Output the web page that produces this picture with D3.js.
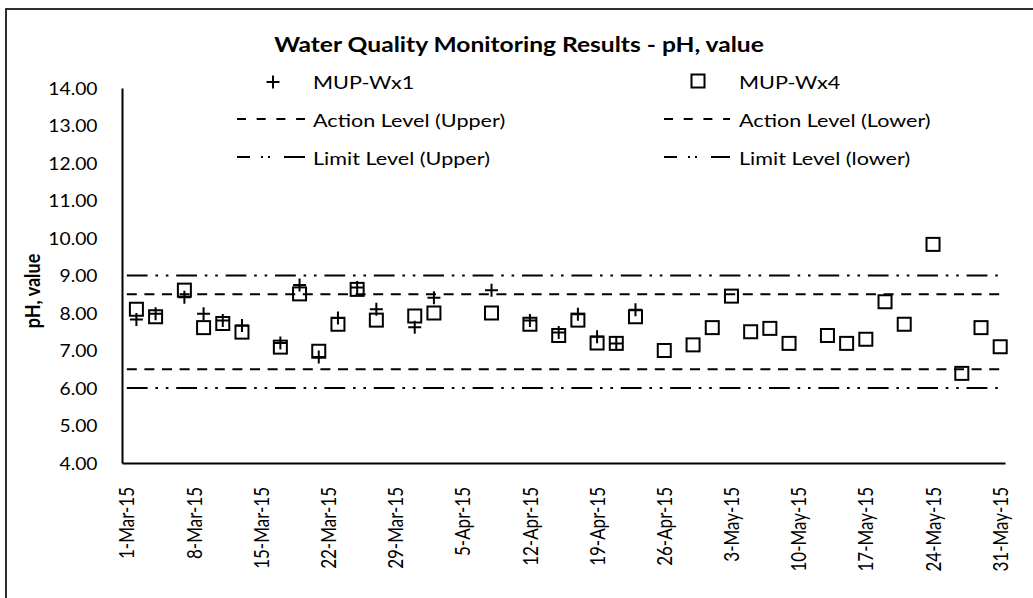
<!DOCTYPE html>
<html>
<head>
<meta charset="utf-8">
<script src="https://cdn.jsdelivr.net/npm/d3@7"></script>
<style>
body{margin:0;background:#fff;}
text{font-family:Lato,"Open Sans",sans-serif;fill:#000;}
</style>
</head>
<body>
<div id="chart-box"></div>
<script>
// sampling dates (MUP-Wx1 stops after 23-Apr)
const sampleDates=["2015-03-02","2015-03-04","2015-03-07","2015-03-09","2015-03-11","2015-03-13","2015-03-17","2015-03-19","2015-03-21","2015-03-23","2015-03-25","2015-03-27","2015-03-31","2015-04-02","2015-04-08","2015-04-12","2015-04-15","2015-04-17","2015-04-19","2015-04-21","2015-04-23","2015-04-26","2015-04-29","2015-05-01","2015-05-03","2015-05-05","2015-05-07","2015-05-09","2015-05-13","2015-05-15","2015-05-17","2015-05-19","2015-05-21","2015-05-24","2015-05-27","2015-05-29","2015-05-31"];
const wx1Values=[7.83,7.98,8.42,7.98,7.80,7.67,7.20,8.75,6.83,7.87,8.68,8.10,7.62,8.41,8.61,7.80,7.48,7.97,7.37,7.19,8.09];
const wx4Values=[8.10,7.90,8.61,7.61,7.72,7.49,7.09,8.51,6.98,7.70,8.63,7.81,7.92,8.00,8.00,7.70,7.40,7.81,7.20,7.19,7.90,7.00,7.15,7.61,8.45,7.50,7.59,7.19,7.40,7.19,7.30,8.30,7.70,9.83,6.39,7.61,7.10];
const seriesNames=["MUP-Wx1","MUP-Wx4"];
const levelNames=["Action Level (Upper)","Action Level (Lower)","Limit Level (Upper)","Limit Level (lower)"];
const levelValues=[8.5,6.5,9.0,6.0];
const levelSpan=["2015-03-01","2015-05-31"];
const tickDates=["2015-03-01","2015-03-08","2015-03-15","2015-03-22","2015-03-29","2015-04-05","2015-04-12","2015-04-19","2015-04-26","2015-05-03","2015-05-10","2015-05-17","2015-05-24","2015-05-31"];
const yTicks=[4,5,6,7,8,9,10,11,12,13,14];

const parse=d3.utcParse("%Y-%m-%d");
const W=1033, H=598;
const sx=1.2; // text in the picture is stretched sideways
const plot={left:122,right:1005,top:88,bottom:463};
const dashAction="10,7.6";
const dashLimit="20.8,7.8,2.6,7.8,2.6,7.8";

const svg=d3.select("#chart-box")
.append("svg")
.attr("width",W)
.attr("height",H);

//outer frame
svg.append("rect")
.attr("x",6).attr("y",9)
.attr("width",W+20).attr("height",H+20)
.attr("fill","none")
.attr("stroke","#1a1a1a")
.attr("stroke-width",1.8);

//scales
const x=d3.scaleUtc()
.domain([d3.utcHour.offset(parse("2015-02-28"),12),d3.utcHour.offset(parse("2015-05-31"),12)])
.range([plot.left,plot.right]);
const y=d3.scaleLinear()
.domain([4,14])
.range([plot.bottom,plot.top]);

//text stretched horizontally
function putText(parent,px,py,rot,k)
{
	return parent.append("g")
	.attr("transform",`translate(${px},${py}) scale(${k||sx},1)`+(rot?` rotate(${rot})`:""))
	.append("text");
}

//title
putText(svg,519,45,0)
.attr("text-anchor","middle")
.attr("dy","0.35em")
.style("font-size","20.5px")
.style("font-weight","bold")
.text("Water Quality Monitoring Results - pH, value");

//y axis title
putText(svg,32,291,-90)
.attr("text-anchor","middle")
.attr("dy","0.35em")
.style("font-size","18px")
.style("font-weight","bold")
.text("pH, value");

//limit / action lines
const lineGen=d3.line().x(d=>x(d.date)).y(d=>y(d.v));
levelValues.forEach(function(v,i){
	svg.append("path")
	.datum(levelSpan.map(s=>({date:parse(s),v:v})))
	.attr("d",lineGen)
	.attr("fill","none")
	.attr("stroke","#000")
	.attr("stroke-width",2.2)
	.attr("stroke-dasharray",i<2?dashAction:dashLimit);
});

//Y axis
const yAxis=d3.axisLeft(y)
.tickValues(yTicks)
.tickFormat(d3.format(".2f"))
.tickSize(0)
.tickSizeOuter(0);
const gy=svg.append("g")
.attr("transform",`translate(${plot.left},0)`)
.call(yAxis);
gy.select(".domain").attr("stroke","#000").attr("stroke-width",2);
gy.selectAll("text")
.attr("x",0).attr("dy","0.35em")
.attr("transform","translate(-24.5,0) scale(1.07,1)")
.style("font-size","18px")
.style("font-family","Lato, sans-serif");

//X axis
const xAxis=d3.axisBottom(x)
.tickValues(tickDates.map(parse))
.tickFormat(d3.utcFormat("%-d-%b-%y"))
.tickSize(0)
.tickSizeOuter(0);
const gx=svg.append("g")
.attr("transform",`translate(0,${plot.bottom})`)
.call(xAxis);
gx.select(".domain").attr("stroke","#000").attr("stroke-width",2);
gx.selectAll("text")
.attr("x",0).attr("y",0).attr("dy","0.35em")
.attr("text-anchor","end")
.attr("transform",`translate(0,24) scale(${sx},1) rotate(-90)`)
.style("font-size","17px")
.style("font-family","Lato, sans-serif");

//markers
const plusPath="M-6.5,0H6.5M0,-6.5V6.5";
svg.append("g").selectAll("path")
.data(wx1Values.map((v,i)=>({date:parse(sampleDates[i]),v:v})))
.enter()
.append("path")
.attr("d",plusPath)
.attr("transform",d=>`translate(${x(d.date)},${y(d.v)})`)
.attr("fill","none")
.attr("stroke","#000")
.attr("stroke-width",2);

svg.append("g").selectAll("rect")
.data(wx4Values.map((v,i)=>({date:parse(sampleDates[i]),v:v})))
.enter()
.append("rect")
.attr("x",d=>x(d.date)-6.5)
.attr("y",d=>y(d.v)-6.5)
.attr("width",13)
.attr("height",13)
.attr("fill","none")
.attr("stroke","#000")
.attr("stroke-width",2);

//legend
const legend=svg.append("g").attr("id","legend");
const rows=[83,121,159];
const cols=[{s:237,e:305,t:313},{s:664,e:730,t:739}];
//series markers
legend.append("path")
.attr("d",plusPath)
.attr("transform",`translate(273,${rows[0]-1})`)
.attr("stroke","#000").attr("stroke-width",2);
legend.append("rect")
.attr("x",698-6.5).attr("y",rows[0]-2-6.5)
.attr("width",13).attr("height",13)
.attr("fill","none").attr("stroke","#000").attr("stroke-width",2);
seriesNames.forEach(function(n,i){
	putText(legend,cols[i].t,rows[0],0)
	.attr("dy","0.35em")
	.style("font-size","18px")
	.text(n);
});
//level samples
levelNames.forEach(function(n,i){
	const c=cols[i%2], r=rows[1+Math.floor(i/2)];
	legend.append("line")
	.attr("x1",c.s).attr("x2",c.e)
	.attr("y1",r-2).attr("y2",r-2)
	.attr("stroke","#000")
	.attr("stroke-width",2.2)
	.attr("stroke-dasharray",i<2?"9,10.7":"13,11,2,5,2,14,21");
	putText(legend,c.t,r,0)
	.attr("dy","0.35em")
	.style("font-size","18px")
	.text(n);
});
</script>
</body>
</html>
